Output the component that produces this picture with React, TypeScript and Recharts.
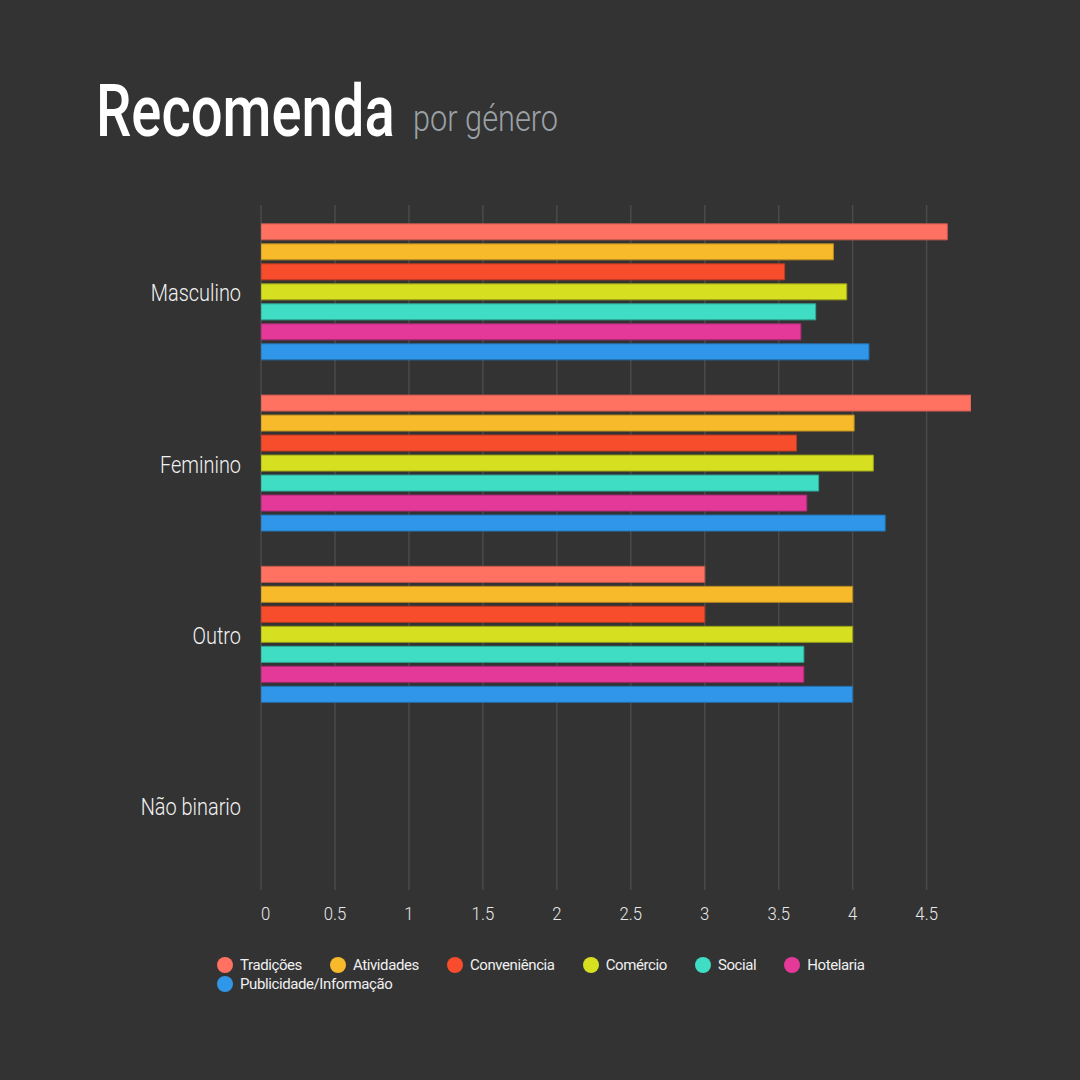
import React from "react";
import { BarChart, Bar, XAxis, YAxis, CartesianGrid } from "recharts";

const categories = ["Masculino", "Feminino", "Outro", "Não binario"];
const seriesNames = [
  "Tradições",
  "Atividades",
  "Conveniência",
  "Comércio",
  "Social",
  "Hotelaria",
  "Publicidade/Informação",
];
const tradicoes = [4.64, 4.8, 3, null];
const atividades = [3.87, 4.01, 4, null];
const conveniencia = [3.54, 3.62, 3, null];
const comercio = [3.96, 4.14, 4, null];
const social = [3.75, 3.77, 3.67, null];
const hotelaria = [3.65, 3.69, 3.67, null];
const publicidade = [4.11, 4.22, 4, null];
const xTicks = [0, 0.5, 1, 1.5, 2, 2.5, 3, 3.5, 4, 4.5];
const xDomain = [0, 4.8];

const fills = ["#FF7262", "#F7BA2B", "#F74D2C", "#D6E021", "#3EDDC4", "#E5399A", "#3096E9"];
const strokes = ["#c85a4e", "#b88a20", "#c03a20", "#9aa018", "#2fa896", "#a82a72", "#2470b0"];

const seriesValues = [tradicoes, atividades, conveniencia, comercio, social, hotelaria, publicidade];
const keys = ["s0", "s1", "s2", "s3", "s4", "s5", "s6"];

const data = categories.map((c, i) => {
  const row: any = { name: c };
  seriesValues.forEach((arr, j) => {
    row[keys[j]] = arr[i];
  });
  return row;
});

const FONT = "Roboto, 'Noto Sans', sans-serif";

const YTick = (props: any) => {
  const { x, y, payload } = props;
  return (
    <g transform={`translate(${x},${y})`}>
      <text
        transform="scale(0.83,1)"
        textAnchor="end"
        dy="0.45em"
        fill="#f2f2f2"
        fontSize={24}
        fontWeight={300}
        fontFamily={FONT}
      >
        {payload.value}
      </text>
    </g>
  );
};

const XTick = (props: any) => {
  const { x, y, payload, index } = props;
  return (
    <g transform={`translate(${x},${y})`}>
      <text
        transform="scale(0.88,1)"
        textAnchor={index === 0 ? "start" : "middle"}
        dy={30}
        fill="#e8e8e8"
        fontSize={19}
        fontWeight={300}
        fontFamily={FONT}
      >
        {payload.value}
      </text>
    </g>
  );
};

export default function App() {
  return (
    <div
      style={{
        position: "absolute",
        left: 0,
        top: 0,
        width: 1080,
        height: 1080,
        background: "#333333",
        fontFamily: FONT,
        overflow: "hidden",
      }}
    >
      <svg width={1080} height={200} style={{ position: "absolute", left: 0, top: 0 }}>
        <text
          transform="translate(96,136) scale(0.78,1)"
          fill="#ffffff"
          fontSize={72}
          fontWeight={500}
          fontFamily={FONT}
        >
          Recomenda
        </text>
        <text
          transform="translate(413,131) scale(0.83,1)"
          fill="#9ba1a6"
          fontSize={37}
          fontWeight={300}
          fontFamily={FONT}
        >
          por género
        </text>
      </svg>

      <div style={{ position: "absolute", left: 0, top: 0 }}>
        <BarChart
          width={1080}
          height={1080}
          data={data}
          layout="vertical"
          margin={{ top: 205, right: 109, bottom: 160, left: 0 }}
          barCategoryGap="11%"
          barGap={4}
        >
          <CartesianGrid
            horizontal={false}
            vertical
            verticalValues={xTicks}
            stroke="#4a4a4a"
            strokeWidth={1.5}
          />
          <XAxis
            type="number"
            domain={xDomain}
            ticks={xTicks}
            allowDataOverflow
            axisLine={false}
            tickLine={false}
            tickSize={0}
            tickMargin={0}
            height={30}
            tick={<XTick />}
          />
          <YAxis
            type="category"
            dataKey="name"
            width={261}
            axisLine={false}
            tickLine={false}
            tickSize={0}
            tickMargin={20}
            tick={<YTick />}
          />
          {keys.map((k, j) => (
            <Bar
              key={k}
              dataKey={k}
              name={seriesNames[j]}
              fill={fills[j]}
              stroke={strokes[j]}
              strokeWidth={1}
              isAnimationActive={false}
            />
          ))}
        </BarChart>
      </div>

      <div
        style={{
          position: "absolute",
          left: 217,
          top: 957,
          width: 680,
          display: "flex",
          flexWrap: "wrap",
          rowGap: 3,
        }}
      >
        {seriesNames.map((n, j) => (
          <div
            key={n}
            style={{ display: "flex", alignItems: "center", marginRight: 28, height: 16 }}
          >
            <span
              style={{
                display: "inline-block",
                width: 16,
                height: 16,
                borderRadius: 8,
                background: fills[j],
                marginRight: 7,
              }}
            />
            <span style={{ color: "#f0f0f0", fontSize: 15, letterSpacing: -0.4, whiteSpace: "nowrap" }}>
              {n}
            </span>
          </div>
        ))}
      </div>
    </div>
  );
}
